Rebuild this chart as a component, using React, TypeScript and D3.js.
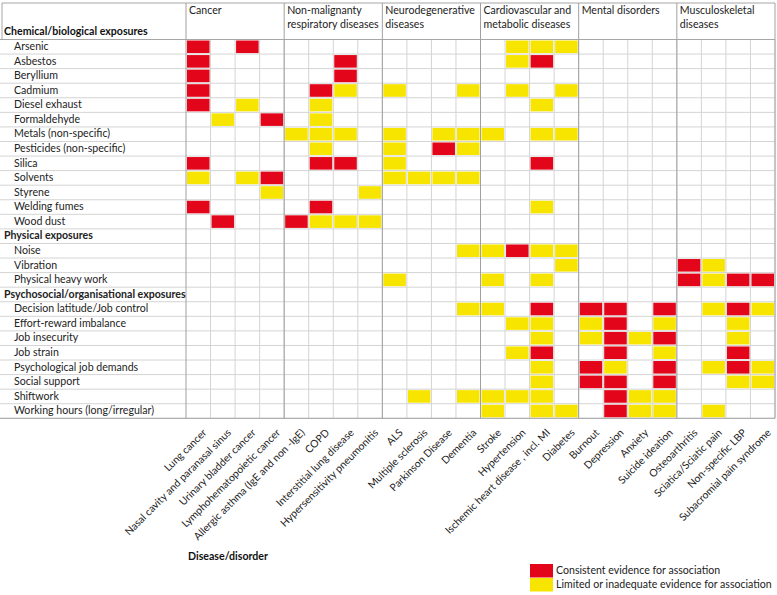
import React from "react";
import * as d3 from "d3";

const groups = [
  { name: ["Cancer"], n: 4 },
  { name: ["Non-malignanty", "respiratory diseases"], n: 4 },
  { name: ["Neurodegenerative", "diseases"], n: 4 },
  { name: ["Cardiovascular and", "metabolic diseases"], n: 4 },
  { name: ["Mental disorders"], n: 4 },
  { name: ["Musculoskeletal", "diseases"], n: 4 },
];

const diseases = [
  "Lung cancer",
  "Nasal cavity and paranasal sinus",
  "Urinary bladder cancer",
  "Lymphohematopoietic cancer",
  "Allergic asthma  (IgE and non -IgE)",
  "COPD",
  "Interstitial lung disease",
  "Hypersensitivity pneumonitis",
  "ALS",
  "Multiple sclerosis",
  "Parkinson Disease",
  "Dementia",
  "Stroke",
  "Hypertension",
  "Ischemic heart disease , incl. MI",
  "Diabetes",
  "Burnout",
  "Depression",
  "Anxiety",
  "Suicide ideation",
  "Osteoarthritis",
  "Sciatica/Sciatic pain",
  "Non-specific LBP",
  "Subacromial pain syndrome",
];

// rows: [label, isHeader]
const rows: [string, boolean][] = [
  ["Arsenic", false],
  ["Asbestos", false],
  ["Beryllium", false],
  ["Cadmium", false],
  ["Diesel exhaust", false],
  ["Formaldehyde", false],
  ["Metals (non-specific)", false],
  ["Pesticides (non-specific)", false],
  ["Silica", false],
  ["Solvents", false],
  ["Styrene", false],
  ["Welding fumes", false],
  ["Wood dust", false],
  ["Physical exposures", true],
  ["Noise", false],
  ["Vibration", false],
  ["Physical heavy work", false],
  ["Psychosocial/organisational exposures", true],
  ["Decision latitude/Job control", false],
  ["Effort-reward imbalance", false],
  ["Job insecurity", false],
  ["Job strain", false],
  ["Psychological job demands", false],
  ["Social support", false],
  ["Shiftwork", false],
  ["Working hours (long/irregular)", false],
];

// evidence per exposure: 24 chars, R = consistent, Y = limited, . = none
const evidence: Record<string, string> = {
  "Arsenic":                        "R.R..........YYY........",
  "Asbestos":                       "R.....R......YR.........",
  "Beryllium":                      "R.....R.................",
  "Cadmium":                        "R....RY.Y..Y.Y.Y........",
  "Diesel exhaust":                 "R.Y..Y........Y.........",
  "Formaldehyde":                   ".Y.R.Y..................",
  "Metals (non-specific)":          "....YYY.Y.YYY.YY........",
  "Pesticides (non-specific)":      ".....Y..Y.RY............",
  "Silica":                         "R....RR.Y.....R.........",
  "Solvents":                       "Y.YR....YYYY............",
  "Styrene":                        "...Y...Y................",
  "Welding fumes":                  "R....R........Y.........",
  "Wood dust":                      ".R..RYYY................",
  "Noise":                          "...........YYRYY........",
  "Vibration":                      "...............Y....RY..",
  "Physical heavy work":            "........Y...Y.Y.....RYRR",
  "Decision latitude/Job control":  "...........YY.R.RR.R.YRY",
  "Effort-reward imbalance":        ".............YY.YR.Y..Y.",
  "Job insecurity":                 "..............Y.YRYR..Y.",
  "Job strain":                     ".............YR..R.Y..R.",
  "Psychological job demands":      "..............Y.RY.R.YRY",
  "Social support":                 "..............Y.RR.R..YY",
  "Shiftwork":                      ".........Y.YYYY..RYY....",
  "Working hours (long/irregular)": "............Y.YY.RYY.Y..",
};

const legendItems = [
  { key: "R", label: "Consistent evidence for association" },
  { key: "Y", label: "Limited or inadequate evidence for association" },
];

const colors: Record<string, string> = { R: "#e3061b", Y: "#f7e500" };
const FONT = "Lato, 'Noto Sans', sans-serif";
const FS = 10.6;

export default function App() {
  const W = 777;
  const H = 595;
  const gridLeft = 186;
  const gridRight = 775;
  const headTop = 3;
  const headBottom = 39.5;
  const gridBottom = 418.3;

  const x = d3.scaleBand<string>().domain(diseases).range([gridLeft, gridRight]);
  const y = d3.scaleBand<string>().domain(rows.map((r) => r[0])).range([headBottom, gridBottom]);
  const bw = x.bandwidth();
  const bh = y.bandwidth();

  const groupStarts: number[] = [];
  let acc = 0;
  groups.forEach((g) => {
    groupStarts.push(acc);
    acc += g.n;
  });

  const cells: { r: string; d: string; v: string }[] = [];
  rows.forEach(([r, isH]) => {
    if (isH) return;
    const s = evidence[r];
    diseases.forEach((d, i) => {
      const v = s[i];
      if (v === "R" || v === "Y") cells.push({ r, d, v });
    });
  });

  return (
    <svg width={W} height={H} style={{ position: "absolute", left: 0, top: 0, background: "#fff" }} fontFamily={FONT}>
      {/* horizontal row lines */}
      {rows.map(([r], i) => (
        <line key={"h" + i} x1={0} x2={gridRight} y1={(y(r) as number) + bh} y2={(y(r) as number) + bh} stroke="#d4d4d4" strokeWidth={1} />
      ))}
      {/* vertical column lines */}
      {diseases.map((d, i) => (
        <line key={"v" + i} x1={(x(d) as number) + bw} x2={(x(d) as number) + bw} y1={headBottom} y2={gridBottom} stroke="#d4d4d4" strokeWidth={1} />
      ))}
      {/* cells */}
      {cells.map((c, i) => (
        <rect key={"c" + i} x={(x(c.d) as number) + 1} y={(y(c.r) as number) + 1} width={bw - 2} height={bh - 2} fill={colors[c.v]} />
      ))}
      {/* header borders */}
      <line x1={2} x2={gridRight} y1={headTop} y2={headTop} stroke="#a6a6a6" />
      <line x1={2} x2={2} y1={headTop} y2={headBottom} stroke="#a6a6a6" />
      <line x1={0} x2={gridRight} y1={headBottom} y2={headBottom} stroke="#a6a6a6" />
      <line x1={0} x2={gridRight} y1={gridBottom} y2={gridBottom} stroke="#a6a6a6" />
      {groupStarts.map((s, i) => (
        <line key={"g" + i} x1={x(diseases[s]) as number} x2={x(diseases[s]) as number} y1={headTop} y2={gridBottom} stroke="#a0a0a0" />
      ))}
      <line x1={gridRight} x2={gridRight} y1={headTop} y2={gridBottom} stroke="#a0a0a0" />
      {/* group labels */}
      {groups.map((g, i) => (
        <text key={"gl" + i} x={(x(diseases[groupStarts[i]]) as number) + 3} y={13.5} fontSize={FS} fill="#222">
          {g.name.map((t, j) => (
            <tspan key={j} x={(x(diseases[groupStarts[i]]) as number) + 3} dy={j === 0 ? 0 : 14.2}>
              {t}
            </tspan>
          ))}
        </text>
      ))}
      {/* first section title in header */}
      <text x={4} y={35} fontSize={FS} fontWeight="bold" fill="#111">Chemical/biological exposures</text>
      {/* row labels */}
      {rows.map(([r, isH], i) => (
        <text key={"rl" + i} x={isH ? 4 : 14} y={(y(r) as number) + bh - 4} fontSize={FS} fontWeight={isH ? "bold" : "normal"} fill="#222">
          {r}
        </text>
      ))}
      {/* column labels */}
      {diseases.map((d, i) => (
        <text key={"cl" + i} transform={`translate(${(x(d) as number) + bw / 2 + 9},${gridBottom + 15})rotate(-45)`} textAnchor="end" fontSize={10.4} fill="#222">
          {d}
        </text>
      ))}
      <text x={188} y={560} fontSize={FS} fontWeight="bold" fill="#111">Disease/disorder</text>
      {/* legend */}
      {legendItems.map((it, i) => (
        <g key={"lg" + i} transform={`translate(530,${564 + i * 14})`}>
          <rect x={0} y={0} width={23} height={13.5} fill={colors[it.key]} />
          <text x={26} y={10} fontSize={FS} fill="#222">{it.label}</text>
        </g>
      ))}
    </svg>
  );
}
